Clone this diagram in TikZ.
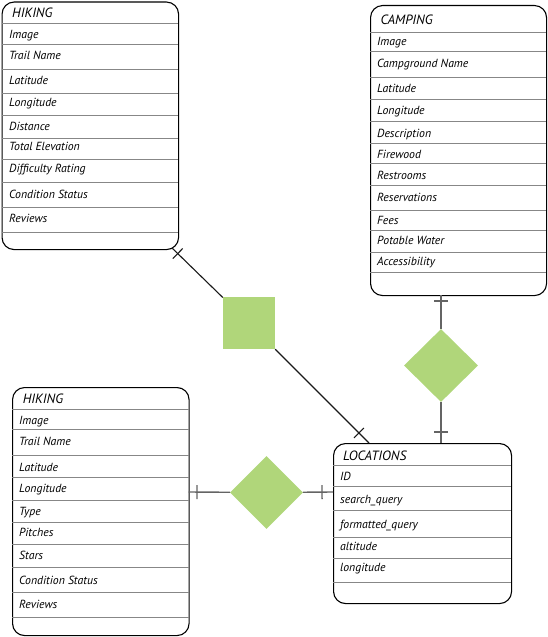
\documentclass[tikz,border=0pt]{standalone}
\usepackage{fontspec}
\setmainfont{PT Sans}
\usetikzlibrary{decorations.markings, shapes.geometric}
\definecolor{relgreen}{RGB}{176,214,122}
\definecolor{divgray}{RGB}{135,135,135}
\definecolor{linkgray}{RGB}{100,100,100}
\definecolor{linkdark}{RGB}{25,25,25}

\begin{document}
\begin{tikzpicture}[x=1bp, y=-1bp,
  entity/.style={draw=black, line width=1.1bp, rounded corners=12bp,
    inner sep=0, anchor=north west},
  divider/.style={draw=divgray, line width=0.9bp},
  heading/.style={anchor=base west, inner sep=0,
    font=\itshape\fontsize{13.5}{13.5}\selectfont},
  field/.style={anchor=base west, inner sep=0,
    font=\itshape\fontsize{11.8}{11.8}\selectfont},
  relsquare/.style={rectangle, fill=relgreen, minimum size=52bp, inner sep=0},
  reldiamond/.style={diamond, fill=relgreen, inner sep=0,
    minimum width=74bp, minimum height=73bp},
  link/.style={linkgray, line width=1.4bp},
  linkline/.style={linkdark, line width=1.1bp},
  crossbar/.style={postaction={decorate, decoration={markings,
    mark=at position #1 with {\draw (0,-7) -- (0,7);}}}}
]
\useasboundingbox (0,0) rectangle (548,637);

% ---------- HIKING (upper left) ----------
\node[entity, minimum width=176.5bp, minimum height=247.5bp] (hikeA) at (1.5,1.5) {};
\foreach \y in {23,44,69,93,115,138,159,182,207,232}
  \draw[divider] (1.5,\y) -- (178,\y);
\node[heading] (hikeA-title) at (12,17.3) {HIKING};
\foreach \t/\y [count=\i] in {Image/38.3, Trail Name/60, Latitude/84.3,
    Longitude/106.3, Distance/130.7, Total Elevation/150.7,
    Difficulty Rating/172.7, Condition Status/198.3, Reviews/222.7}
  \node[field] (hikeA-\i) at (9,\y) {\t};

% ---------- CAMPING ----------
\node[entity, minimum width=176bp, minimum height=290bp] (camp) at (370,5) {};
\foreach \y in {32,51,77,99,121,143,163,185,210,230,252,272}
  \draw[divider] (370,\y) -- (546,\y);
\node[heading] (camp-title) at (380.5,25) {CAMPING};
\foreach \t/\y [count=\i] in {Image/46, Campground Name/67.5, Latitude/92.5,
    Longitude/114.5, Description/138, Firewood/158.3, Restrooms/179.8,
    Reservations/201.6, Fees/224.2, Potable Water/244.8, Accessibility/265.6}
  \node[field] (camp-\i) at (377,\y) {\t};

% ---------- HIKING (lower left) ----------
\node[entity, minimum width=176.5bp, minimum height=248bp] (hikeB) at (12,387) {};
\foreach \y in {409,429,455,477,500,522,544,567,592,617}
  \draw[divider] (12,\y) -- (188.5,\y);
\node[heading] (hikeB-title) at (22.7,403.3) {HIKING};
\foreach \t/\y [count=\i] in {Image/424.3, Trail Name/445.7, Latitude/471,
    Longitude/492.3, Type/515.7, Pitches/536.7, Stars/559,
    Condition Status/584, Reviews/608.3}
  \node[field] (hikeB-\i) at (19,\y) {\t};

% ---------- LOCATIONS ----------
\node[entity, minimum width=178bp, minimum height=160bp] (loc) at (333,443) {};
\foreach \y in {465,486,510,537,558,582}
  \draw[divider] (333,\y) -- (511,\y);
\node[heading] (loc-title) at (343,460.7) {LOCATIONS};
\foreach \t/\y [count=\i] in {ID/480, search\_query/503.3,
    formatted\_query/528.3, altitude/550, longitude/571.7}
  \node[field] (loc-\i) at (340,\y) {\t};

% ---------- relationships ----------
\node[relsquare] (relA) at (249,323) {};
\node[reldiamond] (relB) at (441,365.5) {};
\node[reldiamond, minimum width=73bp] (relC) at (266.5,492.5) {};

% connector end points on the entity outlines
\coordinate (hikeA-out) at (172,248);
\coordinate (loc-inA) at (369,443);
\coordinate (camp-out) at (441,295);
\coordinate (loc-inB) at (441,443);
\coordinate (hikeB-out) at (188.5,492);
\coordinate (loc-inC) at (333,492);

% HIKING -- LOCATIONS
\draw[linkline, crossbar=8bp] (hikeA-out) -- (relA);
\draw[linkline, crossbar=-14bp] (relA) -- (loc-inA);
% CAMPING -- LOCATIONS
\draw[link, crossbar=6bp] (camp-out) -- (relB);
\draw[link, crossbar=-11bp] (relB) -- (loc-inB);
% HIKING -- LOCATIONS (lower)
\draw[link, crossbar=8.5bp] (hikeB-out) -- (relC);
\draw[link, crossbar=-11bp] (relC) -- (loc-inC);
\end{tikzpicture}
\end{document}
